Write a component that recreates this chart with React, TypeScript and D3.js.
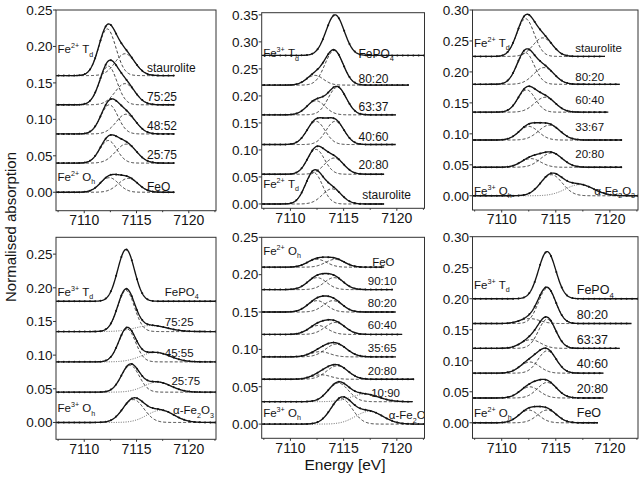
import * as d3 from 'd3';

// each fitted component: [centre (eV), height, sigma (eV)]
type Peak = [number, number, number];

const energyDomain: [number, number] = [7107.3, 7122.6];
const energyTicks = [7110, 7115, 7120];
const energyMinor = [7107.5, 7112.5, 7117.5, 7122.5];

// top left: staurolite / FeO mixtures
const tlNames = ['staurolite', '75:25', '48:52', '25:75', 'FeO'];
const tlOffsets = [0.16, 0.12, 0.08, 0.04, 0];
const tlEnds = [7118.6, 7118.6, 7118.6, 7118.6, 7118.6];
const tlDashed: Peak[][] = [
  [[7112.2, 0.064, 0.82], [7113.9, 0.03, 0.95]],
  [[7112.3, 0.053, 0.82], [7113.9, 0.029, 0.95]],
  [[7112.4, 0.04, 0.82], [7114.0, 0.027, 0.95]],
  [[7112.3, 0.031, 0.82], [7114.0, 0.026, 1.0]],
  [[7112.4, 0.02, 0.88], [7114.2, 0.019, 0.95]],
];
const tlDotted: Peak[][] = [[], [], [], [], []];
const tlSolo: Peak[][] = [[], [], [], [], []];
const tlRefs = ['Fe2+ Td', 'Fe2+ Oh'];
const tlYTicks = [0, 0.05, 0.1, 0.15, 0.2, 0.25];

// top centre: FePO4 / staurolite
const tcNames = ['FePO4', '80:20', '63:37', '40:60', '20:80', 'staurolite'];
const tcOffsets = [0.275, 0.22, 0.165, 0.11, 0.055, 0];
const tcEnds = [7122.6, 7121.1, 7119.9, 7119.9, 7118.8, 7118.8];
const tcDashed: Peak[][] = [
  [],
  [[7112.3, 0.018, 0.8], [7114.1, 0.064, 0.85]],
  [[7112.4, 0.026, 0.85], [7114.4, 0.051, 0.85]],
  [[7112.4, 0.043, 0.85], [7114.2, 0.043, 0.85]],
  [[7112.4, 0.046, 0.8], [7114.1, 0.03, 0.9]],
  [[7112.2, 0.058, 0.8], [7113.9, 0.028, 0.9]],
];
const tcDotted: Peak[][] = [[], [], [], [], [], []];
const tcSolo: Peak[][] = [[[7114.2, 0.075, 0.85]], [], [], [], [], []];
const tcRefs = ['Fe3+ Td', 'Fe2+ Td'];
const tcYTicks = [0, 0.05, 0.1, 0.15, 0.2, 0.25, 0.3, 0.35];

// top right: staurolite / hematite
const trNames = ['staurolite', '80:20', '60:40', '33:67', '20:80', 'α-Fe2O3'];
const trOffsets = [0.225, 0.18, 0.135, 0.09, 0.046, 0];
const trEnds = [7119.55, 7120.9, 7119.85, 7121.1, 7121.1, 7122.6];
const trDashed: Peak[][] = [
  [[7112.2, 0.061, 0.8], [7113.8, 0.03, 0.9]],
  [[7112.2, 0.051, 0.8], [7113.9, 0.027, 0.95]],
  [[7112.3, 0.036, 0.8], [7114.0, 0.024, 0.95]],
  [[7112.5, 0.022, 0.9], [7114.4, 0.024, 1.0]],
  [[7112.7, 0.014, 0.9], [7114.6, 0.023, 1.0]],
  [[7114.6, 0.034, 1.0]],
];
const trDotted: Peak[][] = [[], [], [], [], [], [[7117.2, 0.018, 1.3]]];
const trSolo: Peak[][] = [[], [], [], [], [], []];
const trRefs = ['Fe2+ Td', 'Fe3+ Oh'];
const trYTicks = [0, 0.05, 0.1, 0.15, 0.2, 0.25, 0.3];

// bottom left: FePO4 / hematite
const blNames = ['FePO4', '75:25', '45:55', '25:75', 'α-Fe2O3'];
const blOffsets = [0.18, 0.135, 0.09, 0.045, 0];
const blEnds = [7122.6, 7122.6, 7122.6, 7122.6, 7122.6];
const blDashed: Peak[][] = [
  [],
  [[7114.0, 0.061, 0.8]],
  [[7114.1, 0.049, 0.8]],
  [[7114.4, 0.04, 0.85]],
  [[7114.7, 0.034, 1.0]],
];
const blDotted: Peak[][] = [
  [],
  [[7116.4, 0.009, 1.5]],
  [[7116.8, 0.014, 1.4]],
  [[7117.0, 0.015, 1.3]],
  [[7117.3, 0.018, 1.3]],
];
const blSolo: Peak[][] = [[[7114.0, 0.077, 0.8]], [], [], [], []];
const blRefs = ['Fe3+ Td', 'Fe3+ Oh'];
const blYTicks = [0, 0.05, 0.1, 0.15, 0.2, 0.25];

// bottom centre: FeO / hematite
const bcNames = ['FeO', '90:10', '80:20', '60:40', '35:65', '20:80', '10:90', 'α-Fe2O3'];
const bcOffsets = [0.21, 0.18, 0.15, 0.12, 0.09, 0.06, 0.03, 0];
const bcEnds = [7118.8, 7119.6, 7119.9, 7120.5, 7119.9, 7121.6, 7121.5, 7122.6];
const bcDashed: Peak[][] = [
  [[7112.5, 0.0105, 0.9], [7114.2, 0.0105, 0.9]],
  [[7112.5, 0.016, 0.9], [7114.1, 0.016, 0.9]],
  [[7112.5, 0.0152, 0.9], [7114.0, 0.0152, 0.9]],
  [[7112.6, 0.012, 0.9], [7114.2, 0.016, 0.95]],
  [[7112.8, 0.007, 0.9], [7114.3, 0.017, 1.0]],
  [[7112.9, 0.006, 0.9], [7114.4, 0.018, 1.0]],
  [[7114.5, 0.025, 0.95]],
  [[7114.8, 0.034, 1.0]],
];
const bcDotted: Peak[][] = [[], [], [], [], [], [], [[7117.0, 0.01, 1.3]], [[7117.4, 0.017, 1.3]]];
const bcSolo: Peak[][] = [[], [], [], [], [], [], [], []];
const bcRefs = ['Fe2+ Oh', 'Fe3+ Oh'];
const bcYTicks = [0, 0.05, 0.1, 0.15, 0.2, 0.25];

// bottom right: FePO4 / FeO
const brNames = ['FePO4', '80:20', '63:37', '40:60', '20:80', 'FeO'];
const brOffsets = [0.2, 0.16, 0.12, 0.08, 0.04, 0];
const brEnds = [7122.6, 7122.0, 7120.9, 7119.4, 7119.4, 7118.9];
const brDashed: Peak[][] = [
  [],
  [[7112.6, 0.008, 0.9], [7114.2, 0.057, 0.8]],
  [[7112.7, 0.014, 0.9], [7114.2, 0.047, 0.8]],
  [[7112.6, 0.018, 0.9], [7114.2, 0.036, 0.85]],
  [[7112.6, 0.018, 0.9], [7114.2, 0.025, 0.9]],
  [[7112.5, 0.0205, 0.9], [7114.2, 0.0205, 0.9]],
];
const brDotted: Peak[][] = [[], [], [], [], [], []];
const brSolo: Peak[][] = [[[7114.2, 0.076, 0.8]], [], [], [], [], []];
const brRefs = ['Fe3+ Td', 'Fe2+ Oh'];
const brYTicks = [0, 0.05, 0.1, 0.15, 0.2, 0.25, 0.3];

const panels = [
  { names: tlNames, offsets: tlOffsets, ends: tlEnds, dashed: tlDashed, dotted: tlDotted, solo: tlSolo, refs: tlRefs, yTicks: tlYTicks },
  { names: tcNames, offsets: tcOffsets, ends: tcEnds, dashed: tcDashed, dotted: tcDotted, solo: tcSolo, refs: tcRefs, yTicks: tcYTicks },
  { names: trNames, offsets: trOffsets, ends: trEnds, dashed: trDashed, dotted: trDotted, solo: trSolo, refs: trRefs, yTicks: trYTicks },
  { names: blNames, offsets: blOffsets, ends: blEnds, dashed: blDashed, dotted: blDotted, solo: blSolo, refs: blRefs, yTicks: blYTicks },
  { names: bcNames, offsets: bcOffsets, ends: bcEnds, dashed: bcDashed, dotted: bcDotted, solo: bcSolo, refs: bcRefs, yTicks: bcYTicks },
  { names: brNames, offsets: brOffsets, ends: brEnds, dashed: brDashed, dotted: brDotted, solo: brSolo, refs: brRefs, yTicks: brYTicks },
];

// frame boxes and label placement (pixels)
const boxes = [
  { x0: 56, x1: 216, y0: 10, y1: 210.7, dom: [-0.0253, 0.25], labelE: 7116.0, lifts: [8, 8, 8, 8, 5], dx: [0, 0, 0, 0, 0], refY: [49.3, 176.7], fs: 12 },
  { x0: 261.7, x1: 424.5, y0: 12.7, y1: 208.3, dom: [-0.008, 0.354], labelE: 7116.4, lifts: [2, 6, 7.6, 8, 9, 9], dx: [0, 0, 0, 0, 0, 3.7], refY: [53.3, 184], fs: 12 },
  { x0: 472.5, x1: 638, y0: 10, y1: 210, dom: [-0.023, 0.3], labelE: 7116.8, lifts: [8.7, 7.6, 12, 13, 13, 5], dx: [0, 0, 0, 0, 0, 19], refY: [43, 190.7], fs: 11.5 },
  { x0: 56, x1: 216, y0: 237.3, y1: 439.3, dom: [-0.025, 0.275], labelE: 7117.7, lifts: [9.5, 9.7, 8.4, 11, 12], dx: [0, 0, 0, 6.7, 8.3], refY: [291.7, 408.3], fs: 11.5 },
  { x0: 261.7, x1: 424.5, y0: 237.3, y1: 438.3, dom: [-0.019, 0.25], labelE: 7117.27, lifts: [5.5, 9, 9.3, 9.4, 8.5, 8.5, 8.3, 9], dx: [4.4, 0, 0, 0, 0, 0, 3.4, 21], refY: [250.7, 412.7], fs: 11.5 },
  { x0: 472.5, x1: 638, y0: 236.7, y1: 438.3, dom: [-0.025, 0.3], labelE: 7116.94, lifts: [8.7, 8.5, 8.3, 9.8, 9.6, 10], dx: [0, 0, 0, 0, 0, 0], refY: [285, 412.7], fs: 12.5 },
];

const font = 'Liberation Sans, Arial, sans-serif';
const ink = '#141414';

const peakSum = (peaks: Peak[], e: number) =>
  peaks.reduce((s, [c, h, w]) => s + h * Math.exp(-((e - c) ** 2) / (2 * w * w)), 0);

type Part = { t: string; s?: 'sub' | 'sup' };
const shift = { sub: 0.3, sup: -0.42 };

const spans = (parts: Part[], fs: number) => {
  let cur = 0;
  return parts.map((p, i) => {
    const target = p.s ? shift[p.s] * fs : 0;
    const dy = target - cur;
    cur = target;
    return (
      <tspan key={i} dy={dy} fontSize={p.s ? fs * 0.62 : fs}>
        {p.t}
      </tspan>
    );
  });
};

const nameParts = (name: string): Part[] => {
  if (name.includes(':')) return [{ t: name }];
  return name
    .split(/(\d)/)
    .filter(Boolean)
    .map((t) => (/\d/.test(t) ? { t, s: 'sub' as const } : { t }));
};

const refParts = (ref: string): Part[] => {
  const [, charge, site, sub] = ref.match(/^Fe(\d\+) ([A-Z])([a-z])$/) || [];
  return [{ t: 'Fe' }, { t: charge, s: 'sup' }, { t: '\u00a0' + site }, { t: sub, s: 'sub' }];
};

const Panel = ({ index }: { index: number }) => {
  const data = panels[index];
  const box = boxes[index];
  const x = d3.scaleLinear().domain(energyDomain).range([box.x0, box.x1]);
  const y = d3.scaleLinear().domain(box.dom).range([box.y1, box.y0]);
  const line = d3
    .line<[number, number]>()
    .x((d) => x(d[0]))
    .y((d) => y(d[1]));
  const clipId = `clip-${index}`;

  return (
    <g>
      <defs>
        <clipPath id={clipId}>
          <rect x={box.x0} y={box.y0} width={box.x1 - box.x0} height={box.y1 - box.y0} />
        </clipPath>
      </defs>
      <g clipPath={`url(#${clipId})`}>
        {data.names.map((name, i) => {
          const off = data.offsets[i];
          const es = d3.range(energyDomain[0], data.ends[i] + 0.001, 0.05);
          const all = [...data.dashed[i], ...data.dotted[i], ...data.solo[i]];
          const total = es.map((e) => [e, off + peakSum(all, e)] as [number, number]);
          const marks = d3.range(energyDomain[0] + 0.25, data.ends[i], 0.5);
          const lx = x(box.labelE) + box.dx[i];
          const ly = y(off) - box.lifts[i] + box.fs * 0.35;
          return (
            <g key={name + i}>
              {data.dashed[i].map((p, k) => (
                <path
                  key={'d' + k}
                  d={line(es.map((e) => [e, off + peakSum([p], e)] as [number, number])) || ''}
                  fill="none"
                  stroke="#262626"
                  strokeWidth={0.9}
                  strokeDasharray="3,2"
                />
              ))}
              {data.dotted[i].map((p, k) => (
                <path
                  key={'o' + k}
                  d={line(es.map((e) => [e, off + peakSum([p], e)] as [number, number])) || ''}
                  fill="none"
                  stroke="#555"
                  strokeWidth={0.9}
                  strokeDasharray="1,1.4"
                />
              ))}
              <path d={line(total) || ''} fill="none" stroke={ink} strokeWidth={1.35} />
              {marks.map((e) => (
                <circle key={e} cx={x(e)} cy={y(off + peakSum(all, e))} r={1} fill={ink} />
              ))}
              <text x={lx} y={ly} fontSize={box.fs} fill={ink} fontFamily={font}>
                {spans(nameParts(name), box.fs)}
              </text>
            </g>
          );
        })}
        {data.refs.map((ref, k) => (
          <text key={ref + k} x={box.x0 + 1.5} y={box.refY[k] + 4} fontSize={11.5} fill={ink} fontFamily={font}>
            {spans(refParts(ref), 11.5)}
          </text>
        ))}
      </g>
      <rect
        x={box.x0}
        y={box.y0}
        width={box.x1 - box.x0}
        height={box.y1 - box.y0}
        fill="none"
        stroke="#333"
        strokeWidth={1}
      />
      {data.yTicks.map((t) => (
        <g key={t}>
          <line x1={box.x0 - 3} x2={box.x0} y1={y(t)} y2={y(t)} stroke="#333" />
          <text
            x={box.x0 - 3.5}
            y={y(t) + 4.8}
            textAnchor="end"
            fontSize={13.5}
            fill={ink}
            fontFamily={font}
          >
            {d3.format('.2f')(t)}
          </text>
        </g>
      ))}
      {energyTicks.map((t) => (
        <g key={t}>
          <line x1={x(t)} x2={x(t)} y1={box.y1} y2={box.y1 + 2.5} stroke="#333" />
          <text x={x(t)} y={box.y1 + 14.2} textAnchor="middle" fontSize={14} fill={ink} fontFamily={font}>
            {t}
          </text>
        </g>
      ))}
      {energyMinor.map((t) => (
        <line key={t} x1={x(t)} x2={x(t)} y1={box.y1} y2={box.y1 + 1.5} stroke="#333" />
      ))}
    </g>
  );
};

export default function App() {
  return (
    <svg
      width={640}
      height={478}
      style={{ position: 'absolute', left: 0, top: 0, background: '#fff' }}
    >
      {panels.map((_, i) => (
        <Panel key={i} index={i} />
      ))}
      <text
        transform="translate(16,227) rotate(-90)"
        textAnchor="middle"
        fontSize={15}
        fill={ink}
        fontFamily={font}
      >
        Normalised absorption
      </text>
      <text x={345} y={469.5} textAnchor="middle" fontSize={15.5} fill={ink} fontFamily={font}>
        Energy [eV]
      </text>
    </svg>
  );
}
